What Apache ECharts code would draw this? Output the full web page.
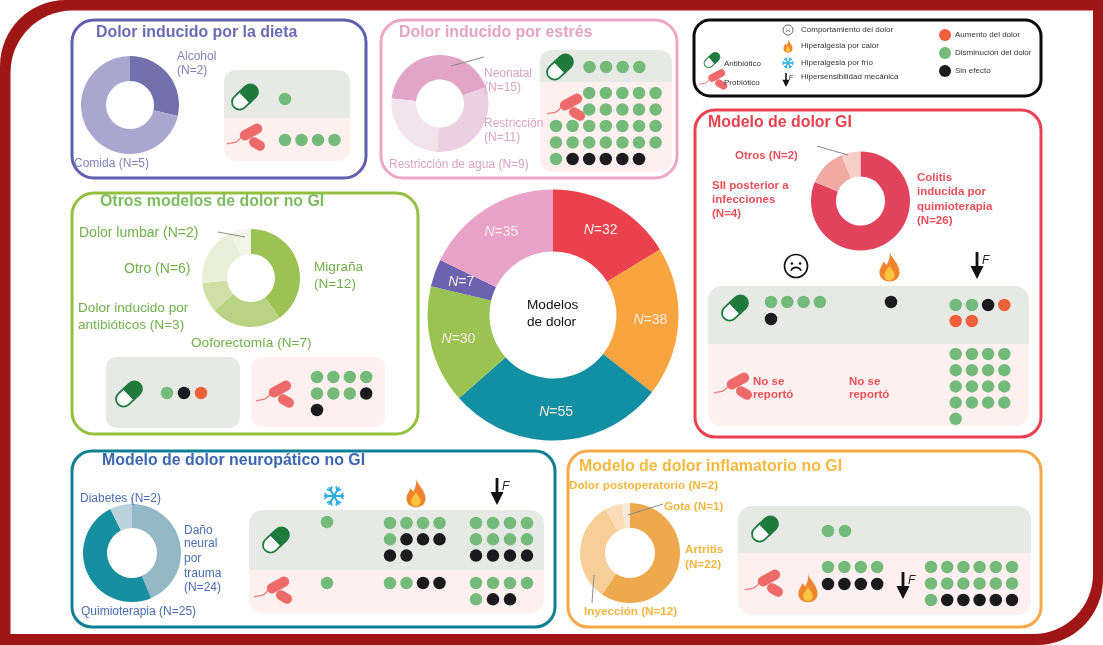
<!DOCTYPE html>
<html><head><meta charset="utf-8">
<style>html,body{margin:0;padding:0;background:#fff}#c{width:1103px;height:645px}</style>
<script src="https://cdn.jsdelivr.net/npm/echarts@6/dist/echarts.min.js"></script>
</head><body><div id="c"></div>
<script>
// ---- donut data ----
const centerNames = ['GI','Inflamatorio','Neuropático','Otros','Dieta','Estrés'];
const centerValues = [32,38,55,30,7,35];
const dietValues = [2,5];
const stressValues = [15,11,9];
const giValues = [26,4,2];
const otherValues = [12,7,3,6,2];
const neuroValues = [24,27,4]; // slice sizes as drawn in the picture
const inflamValues = [22,12,2,1];

// ---- dot outcomes: G disminución, K sin efecto, R aumento ----
const dietAntibiotic = 'G';
const dietProbiotic = 'GGGG';
const stressAntibiotic = 'GGGG';
const stressProbiotic = '..GGGGG/..GGGGG/GGGGGGG/GGGGGGG/GKKKKK';
const giAntiPain = 'GGGG/K';
const giAntiHeat = 'K';
const giAntiMech = 'GGKR/RR';
const giProbMech = 'GGGG/GGGG/GGGG/GGGG/G';
const otherAntibiotic = 'GKR';
const otherProbiotic = 'GGGG/GGGK/K';
const neuroAntiCold = 'G';
const neuroAntiHeat = 'GGGG/GKKK/KK';
const neuroAntiMech = 'GGGG/GGGG/KKKK';
const neuroProbCold = 'G';
const neuroProbHeat = 'GGKK';
const neuroProbMech = 'GGGG/GKK';
const inflamAntibiotic = 'GG';
const inflamProbHeat = 'GGGG/KKKK';
const inflamProbMech = 'GGGGGG/GGGGGG/GKKKKK';

const FONT = '"Liberation Sans",Arial,sans-serif';
const C = {G:'#74bb7b',K:'#1b1b1d',R:'#f0603a'};

// ---- dot block placement ----
const blocks = [
 [dietAntibiotic,285,99,16.5,16],[dietProbiotic,285,140,16.5,16],
 [stressAntibiotic,589.5,67,16.6,16.5],[stressProbiotic,556,93,16.6,16.5],
 [giAntiPain,771,302,16.3,17],[giAntiHeat,891,302,16,16],[giAntiMech,955.7,305,16.2,16],[giProbMech,955.7,354,16.2,16.2],
 [otherAntibiotic,167,393,17,16],[otherProbiotic,317,377,16.4,16.5],
 [neuroAntiCold,327,522,16,16],[neuroAntiHeat,390,523,16.5,16.3],[neuroAntiMech,476,523,17,16.3],
 [neuroProbCold,327,583,16,16],[neuroProbHeat,390,583,16.5,16],[neuroProbMech,476,583,17,16.3],
 [inflamAntibiotic,828,531,17,16],[inflamProbHeat,828,567,16.4,17],[inflamProbMech,931,567,16.2,16.5]
];
const pts = {G:[],K:[],R:[]};
blocks.forEach(([s,x,y,dx,dy])=>s.split('/').forEach((row,r)=>[...row].forEach((c,i)=>{
  if(pts[c]) pts[c].push([x+i*dx,y+r*dy]);
})));

function donut(center,r,values,colors,startAngle,labelled){
  return {type:'pie',center,radius:r,startAngle:startAngle===undefined?90:startAngle,clockwise:true,silent:true,animation:false,
    avoidLabelOverlap:false,labelLine:{show:false},
    label:labelled?{show:true,position:'inside',formatter:p=>'{n|N}{v|='+p.value+'}',
      rich:{n:{fontFamily:FONT,fontStyle:'italic',fontSize:14,color:'#f5ece4'},v:{fontFamily:FONT,fontSize:14,color:'#f5ece4'}}}:{show:false},
    data:values.map((v,i)=>({value:v,name:labelled?centerNames[i]:String(i),itemStyle:{color:colors[i]}}))};
}

echarts.graphic.registerShape('flameOuter',echarts.graphic.extendPath('M10 0C12 7 20 12 20 21C20 27 15 30 10 30C5 30 0 27 0 21C0 16 3 14 4 10C6 12 7 13 7 14C9 10 11 5 10 0Z',{}));
echarts.graphic.registerShape('flameInner',echarts.graphic.extendPath('M10 14C12 18 15 20 15 24C15 27 12 29 10 29C7 29 5 27 5 24C5 20 8 18 10 14Z',{}));

const g = [];
const rect=(x,y,w,h,r,style,extra)=>Object.assign({type:'rect',shape:{x,y,width:w,height:h,r},style},extra||{});
const line=(x1,y1,x2,y2,stroke,lw)=>({type:'line',z:6,shape:{x1,y1,x2,y2},style:{stroke:stroke||'#8a8a8a',lineWidth:lw||1}});
const text=(t,x,y,fill,size,weight)=>({type:'text',z:8,x,y,style:{text:t,fill,font:(weight||'normal')+' '+size+'px '+FONT,textVerticalAlign:'middle',verticalAlign:'middle'}});
function texts(list,x,ys,fill,size,weight){list.forEach((t,i)=>g.push(text(t,x,ys[i],fill,size,weight)));}

// frame
g.push(rect(0,0,1103,645,[66,0,66,0],{fill:'#a01515'}));
g.push(rect(10.5,10.5,1082.5,623.5,[62,0,60,0],{fill:'#fff'}));
// boxes
[[72,20,294,158,22,'#5f5fb0'],[381,20,296,158,22,'#eea6c6'],[694,20,347,76,16,'#0a0a0a'],[695,110,346,327,20,'#e94152'],
 [72,193,346,241,22,'#94bf3f'],[72,451,483,176,20,'#0f7f94'],[568,451,473,176,20,'#f6a947']]
 .forEach(b=>g.push(rect(b[0],b[1],b[2],b[3],b[4],{fill:'#fff',stroke:b[5],lineWidth:3})));
// panels
const GR='#e7e9e5',PK='#fdf0ee';
function twoPanel(x,w,y0,y1,y2,r){
  g.push(rect(x,y0,w,y1-y0,[r,r,0,0],{fill:GR}));
  g.push(rect(x,y1,w,y2-y1,[0,0,r,r],{fill:PK}));
}
twoPanel(224,126,70,118,161,12);
twoPanel(540,132,50,82,172,12);
twoPanel(708,321,286,344,426,14);
twoPanel(249,295,510,570,613,14);
twoPanel(738,293,506,553,615,14);
g.push(rect(106,357,134,71,10,{fill:GR}));
g.push(rect(251,357,134,70,10,{fill:PK}));

// icons
function pill(x,y,s){s=s||1;const h=7.5*s,l=15*s,st='#1f7a3e';
 g.push({type:'group',z:6,x,y,rotation:0.75,children:[
  {type:'rect',shape:{x:-l,y:-h,width:l,height:2*h,r:[h,0,0,h]},style:{fill:'#fff',stroke:st,lineWidth:1.8*s}},
  {type:'rect',shape:{x:0,y:-h,width:l,height:2*h,r:[0,h,h,0]},style:{fill:st,stroke:st,lineWidth:1.8*s}}]});}
function bacterium(x,y,s){s=s||1;const col='#ee6a6a';
 g.push({type:'group',z:6,x,y,scaleX:s,scaleY:s,children:[
  {type:'bezierCurve',shape:{x1:-19,y1:6,x2:-4,y2:-2,cpx1:-13,cpy1:3,cpx2:-11,cpy2:8},style:{stroke:col,lineWidth:1.2,fill:'none'}},
  {type:'rect',x:5,y:-6,rotation:0.5,shape:{x:-12,y:-5.2,width:24,height:10.4,r:5.2},style:{fill:col}},
  {type:'rect',x:11,y:6,rotation:-0.55,shape:{x:-8.5,y:-5,width:17,height:10,r:5},style:{fill:col}}]});}
function flame(x,y,s){s=s||1;
 g.push({type:'group',z:6,x:x-10*s,y:y-15*s,scaleX:s,scaleY:s,children:[
  {type:'flameOuter',style:{fill:'#f0842c'}},{type:'flameInner',style:{fill:'#fbc63e'}}]});}
function arrow(x,y1,y2,s){s=s||1;
 g.push(line(x,y1,x,y2-10*s,'#111',2.8*s));
 g.push({type:'polygon',z:6,shape:{points:[[x-6.5*s,y2-13*s],[x+6.5*s,y2-13*s],[x,y2]]},style:{fill:'#111'}});
 g.push({type:'text',z:8,x:x+5*s,y:y1+3*s,style:{text:'F',fill:'#222',font:'italic '+(12*s)+'px '+FONT}});}
function snow(x,y,R,col,lw){col=col||'#2baee2';lw=lw||2;
 for(let i=0;i<3;i++){const a=i*Math.PI/3;
  const ch=[{type:'line',shape:{x1:-R,y1:0,x2:R,y2:0},style:{stroke:col,lineWidth:lw}}];
  [-1,1].forEach(d=>[-1,1].forEach(t=>ch.push({type:'line',shape:{x1:d*R*.62,y1:0,x2:d*R*.95,y2:t*R*.3},style:{stroke:col,lineWidth:lw*.8}})));
  g.push({type:'group',z:6,x,y,rotation:a,children:ch});}}
function face(x,y,R,col,lw){col=col||'#111';lw=lw||1.7;
 g.push({type:'circle',z:6,shape:{cx:x,cy:y,r:R},style:{fill:'#fff',stroke:col,lineWidth:lw}});
 [-1,1].forEach(d=>g.push({type:'circle',z:6,shape:{cx:x+d*R*.36,cy:y-R*.22,r:R*.11},style:{fill:col}}));
 g.push({type:'arc',z:6,shape:{cx:x,cy:y+R*.62,r:R*.5,startAngle:Math.PI*1.15,endAngle:Math.PI*1.85,clockwise:true},style:{stroke:col,lineWidth:lw,fill:'none'}});}

pill(245,97);bacterium(246,138);
pill(560,67);bacterium(566,108);
pill(735,308);bacterium(733,387);
pill(129,394);bacterium(275,395);
pill(276,540);bacterium(273,591);
pill(765,529);bacterium(764,584);
face(796,266,11.5);flame(889.5,266.5,1);arrow(977,252,279);
snow(334,496,10);flame(416,493,.95);arrow(497,478,505);
flame(808,588,.95);arrow(903,572,599);
// legend
const legTxt='#333';
pill(712,60,.6);bacterium(713,80,.75);
g.push(text('Antibiótico',724,64,legTxt,8),text('Probiótico',724,83,legTxt,8));
face(788,30,5,'#666',1);flame(788,46,.45);snow(788,63,5.5,'#2baee2',1.4);arrow(786,73,87,.55);
[['Comportamiento del dolor',30],['Hiperalgesia por calor',46],['Hiperalgesia por frío',63],['Hipersensibilidad mecánica',77]]
 .forEach(t=>g.push(text(t[0],801,t[1],legTxt,8)));
[['R','Aumento del dolor',35],['G','Disminución del dolor',53],['K','Sin efecto',71]].forEach(t=>{
 g.push({type:'circle',z:6,shape:{cx:945,cy:t[2],r:6},style:{fill:C[t[0]]}});
 g.push(text(t[1],955,t[2],legTxt,8));});

// leaders
g.push(line(451,66,484,57),line(817,146,848,155),line(218,232,245,237),line(628,515,663,504),line(594,575,592,603),line(132,497,132,505,'#9aa8b8',1));

// text
const TS=15.9;
g.push(text('Dolor inducido por la dieta',96,33,'#6b6bb5',TS,'bold'));
texts(['Alcohol','(N=2)'],177,[57,71],'#8180b9',12);
g.push(text('Comida (N=5)',74,164,'#8180b9',12));
g.push(text('Dolor inducido por estrés',399,33,'#e3a3c3',TS,'bold'));
texts(['Neonatal','(N=15)'],484,[74,88],'#d9a3c2',12);
texts(['Restricción','(N=11)'],484,[124,138],'#d9a3c2',12);
g.push(text('Restricción de agua (N=9)',389,165,'#d9a3c2',12));
g.push(text('Modelo de dolor GI',708,123,'#e8404f',TS,'bold'));
g.push(text('Otros (N=2)',735,156,'#e8505c',11.5,'bold'));
texts(['SII posterior a','infecciones','(N=4)'],712,[186,200,214],'#e8505c',11.5,'bold');
texts(['Colitis','inducida por','quimioterapia','(N=26)'],917,[178,192,207,221],'#e8505c',11.5,'bold');
texts(['No se','reportó'],753,[382,395],'#e8505c',11.5,'bold');
texts(['No se','reportó'],849,[382,395],'#e8505c',11.5,'bold');
g.push(text('Otros modelos de dolor no GI',100,202,'#7cbd5f',TS,'bold'));
const gc='#6fb04a';
g.push(text('Dolor lumbar (N=2)',79,233,gc,14),text('Otro (N=6)',124,269,gc,14));
texts(['Migraña','(N=12)'],314,[267,284],gc,13.6);
texts(['Dolor inducido por','antibióticos (N=3)'],78,[308,325],gc,13.6);
g.push(text('Ooforectomía (N=7)',191,343,gc,13.6));
g.push(text('Modelo de dolor neuropático no GI',102,461,'#3d66b0',TS,'bold'));
const bc='#4a6db3';
g.push(text('Diabetes (N=2)',80,499,bc,12));
texts(['Daño','neural','por','trauma','(N=24)'],184,[531,544,559,574,588],bc,12);
g.push(text('Quimioterapia (N=25)',81,612,bc,12));
g.push(text('Modelo de dolor inflamatorio no GI',579,467,'#f5b93d',TS,'bold'));
const oc='#f3b63f';
g.push(text('Dolor postoperatorio (N=2)',569,486,oc,11.7,'bold'),text('Gota (N=1)',664,507,oc,11.7,'bold'));
texts(['Artritis','(N=22)'],685,[550,565],oc,11.7,'bold');
g.push(text('Inyección (N=12)',584,612,oc,11.7,'bold'));
texts(['Modelos','de dolor'],527,[305,322],'#111',13.6);

const chart=echarts.init(document.getElementById('c'),null,{renderer:'canvas'});
chart.setOption({
 animation:false,backgroundColor:'#fff',
 grid:{left:0,right:0,top:0,bottom:0},
 xAxis:{type:'value',min:0,max:1103,show:false},
 yAxis:{type:'value',min:0,max:645,inverse:true,show:false},
 graphic:{elements:g},
 series:[
  donut([553,315],[63.5,125.5],centerValues,['#ea414c','#f8a53f','#138fa3','#9bc353','#6c63ae','#e9a3c9'],90,true),
  donut([130,105],[24,49],dietValues,['#7271ac','#a9a7cf']),
  donut([440,103.5],[24,48.5],stressValues,['#e3a5c7','#eccfe1','#f3e3ed'],174),
  donut([860.5,201],[24.5,49.5],giValues,['#e0435b','#f1a9a3','#f6cfcb']),
  donut([251,278],[24,49],otherValues,['#9cc253','#b9d284','#cfdfa6','#e9efd9','#f3f5e8']),
  donut([132,553],[25,49],neuroValues,['#94b8c5','#178fa1','#b9d2dc']),
  donut([630,553],[25,50],inflamValues,['#eea94f','#f5cf97','#fadcb8','#fce9d6']),
  ...Object.keys(pts).map(k=>({type:'scatter',silent:true,animation:false,symbol:'circle',symbolSize:12.5,z:5,
     itemStyle:{color:C[k],opacity:1},data:pts[k]}))
 ]
});
</script></body></html>
